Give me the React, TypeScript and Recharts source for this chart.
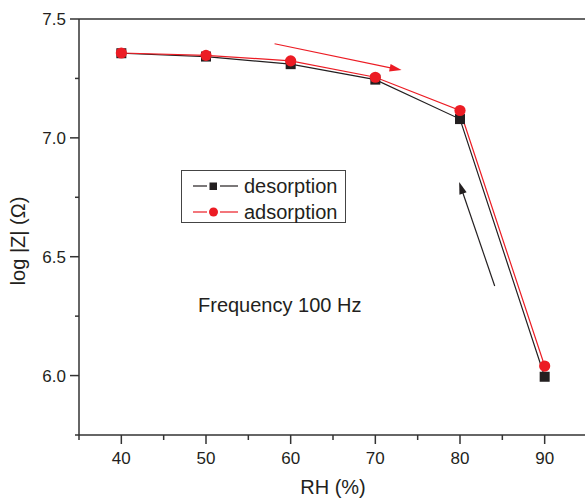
import React from 'react';
import { LineChart, Line, XAxis, YAxis, ReferenceLine, Legend } from 'recharts';

const RH = [40, 50, 60, 70, 80, 90];
const desorption = [7.356, 7.342, 7.31, 7.245, 7.079, 5.995];
const adsorption = [7.357, 7.347, 7.324, 7.255, 7.115, 6.04];
const xTicks = [35, 40, 45, 50, 55, 60, 65, 70, 75, 80, 85, 90, 95];
const yTicks = [5.75, 6, 6.25, 6.5, 6.75, 7, 7.25, 7.5];
const adsArrow = [
  { x: 58.1, y: 7.396 },
  { x: 73.1, y: 7.285 },
];
const desArrow = [
  { x: 84.1, y: 6.377 },
  { x: 79.9, y: 6.814 },
];
const seriesNames = ['desorption', 'adsorption'];
const noteText = 'Frequency 100 Hz';

const data = RH.map((rh, i) => ({ rh, desorption: desorption[i], adsorption: adsorption[i] }));

const FONT = '"Liberation Sans", Arial, Helvetica, sans-serif';
const AX = '#333333';
const BLACK = '#231f20';
const RED = '#ec1c24';

const XTick = (props: any) => {
  const { x, y, payload } = props;
  const v = payload.value;
  const major = v % 10 === 0;
  return (
    <g>
      <line x1={x} y1={y} x2={x} y2={y + (major ? 9 : 5)} stroke={AX} strokeWidth={1.5} />
      {major && (
        <text x={x} y={y + 28.5} textAnchor="middle" fontSize={17} fontFamily={FONT} fill={BLACK}>
          {v}
        </text>
      )}
    </g>
  );
};

const YTick = (props: any) => {
  const { x, y, payload } = props;
  const v = payload.value;
  const major = Math.abs(v * 2 - Math.round(v * 2)) < 1e-6;
  return (
    <g>
      <line x1={x - (major ? 9 : 4)} y1={y} x2={x} y2={y} stroke={AX} strokeWidth={1.5} />
      {major && (
        <text x={x - 13} y={y + 6} textAnchor="end" fontSize={17} fontFamily={FONT} fill={BLACK}>
          {v.toFixed(1)}
        </text>
      )}
    </g>
  );
};

const makeArrow = (color: string) => (p: any) => {
  const { x1, y1, x2, y2 } = p;
  const dx = x2 - x1;
  const dy = y2 - y1;
  const len = Math.sqrt(dx * dx + dy * dy) || 1;
  const ux = dx / len;
  const uy = dy / len;
  const hl = 12;
  const hw = 3.8;
  const bx = x2 - ux * hl;
  const by = y2 - uy * hl;
  const pts = `${x2},${y2} ${bx - uy * hw},${by + ux * hw} ${bx + uy * hw},${by - ux * hw}`;
  return (
    <g>
      <line x1={x1} y1={y1} x2={bx + ux * 2} y2={by + uy * 2} stroke={color} strokeWidth={1.2} />
      <polygon points={pts} fill={color} />
    </g>
  );
};

const SquareDot = (p: any) => (
  <rect key={`sq-${p.index}`} x={p.cx - 5} y={p.cy - 5} width={10} height={10} fill={BLACK} />
);
const CircleDot = (p: any) => <circle key={`ci-${p.index}`} cx={p.cx} cy={p.cy} r={5.6} fill={RED} />;

const LegendBox = () => (
  <svg width={165} height={53} style={{ display: 'block' }}>
    <rect x={0.5} y={0.5} width={164} height={52} fill="white" stroke="#444" strokeWidth={1} />
    <line x1={12} y1={16} x2={26} y2={16} stroke={BLACK} strokeWidth={1.2} />
    <line x1={39} y1={16} x2={57} y2={16} stroke={BLACK} strokeWidth={1.2} />
    <rect x={28.5} y={12.5} width={7.5} height={7.5} fill={BLACK} />
    <text x={63} y={23} fontSize={20} fontFamily={FONT} fill={BLACK}>
      {seriesNames[0]}
    </text>
    <line x1={12} y1={42} x2={26} y2={42} stroke={RED} strokeWidth={1.2} />
    <line x1={39} y1={42} x2={57} y2={42} stroke={RED} strokeWidth={1.2} />
    <circle cx={32.5} cy={42} r={4.5} fill={RED} />
    <text x={63} y={49} fontSize={20} fontFamily={FONT} fill={BLACK}>
      {seriesNames[1]}
    </text>
  </svg>
);

export default function App() {
  return (
    <div style={{ position: 'absolute', left: 0, top: 0, width: 585, height: 502, overflow: 'hidden', background: 'white' }}>
      <LineChart width={587} height={502} data={data} margin={{ top: 19, right: 0, bottom: 0, left: 0 }}>
        <XAxis
          dataKey="rh"
          type="number"
          domain={[35, 95]}
          ticks={xTicks}
          interval={0}
          tickSize={0}
          tickMargin={0}
          tickLine={false}
          tick={XTick}
          height={67}
          axisLine={{ stroke: AX, strokeWidth: 1.5 }}
          label={{
            content: (p: any) => {
              const vb = p.viewBox;
              return (
                <text x={vb.x + vb.width / 2} y={vb.y + 59} textAnchor="middle" fontSize={20} fontFamily={FONT} fill={BLACK}>
                  RH (%)
                </text>
              );
            },
          }}
        />
        <YAxis
          type="number"
          domain={[5.75, 7.5]}
          ticks={yTicks}
          interval={0}
          tickSize={0}
          tickMargin={0}
          tickLine={false}
          tick={YTick}
          width={79}
          axisLine={{ stroke: AX, strokeWidth: 1.5 }}
          label={{
            content: (p: any) => {
              const vb = p.viewBox;
              const cx = vb.x + 25;
              const cy = vb.y + vb.height / 2 + 14;
              return (
                <text x={cx} y={cy} textAnchor="middle" fontSize={20} fontFamily={FONT} fill={BLACK} transform={`rotate(-90, ${cx}, ${cy})`}>
                  log |Z| (Ω)
                </text>
              );
            },
          }}
        />
        <ReferenceLine y={7.5} stroke={AX} strokeWidth={1.5} />
        <ReferenceLine segment={adsArrow} shape={makeArrow(RED)} />
        <ReferenceLine segment={desArrow} shape={makeArrow(BLACK)} />
        <Legend
          layout="vertical"
          align="center"
          verticalAlign="middle"
          content={LegendBox}
          wrapperStyle={{ position: 'absolute', left: 181, top: 170, width: 165, height: 53 }}
        />
        <Line
          dataKey="desorption"
          stroke={BLACK}
          strokeWidth={1.2}
          dot={SquareDot}
          activeDot={false}
          isAnimationActive={false}
        />
        <Line
          dataKey="adsorption"
          stroke={RED}
          strokeWidth={1.2}
          dot={CircleDot}
          activeDot={false}
          isAnimationActive={false}
        />
      </LineChart>
      <svg width={585} height={502} style={{ position: 'absolute', left: 0, top: 0, pointerEvents: 'none' }}>
        <text x={198} y={312} fontSize={20} fontFamily={FONT} fill={BLACK}>
          {noteText}
        </text>
      </svg>
    </div>
  );
}
